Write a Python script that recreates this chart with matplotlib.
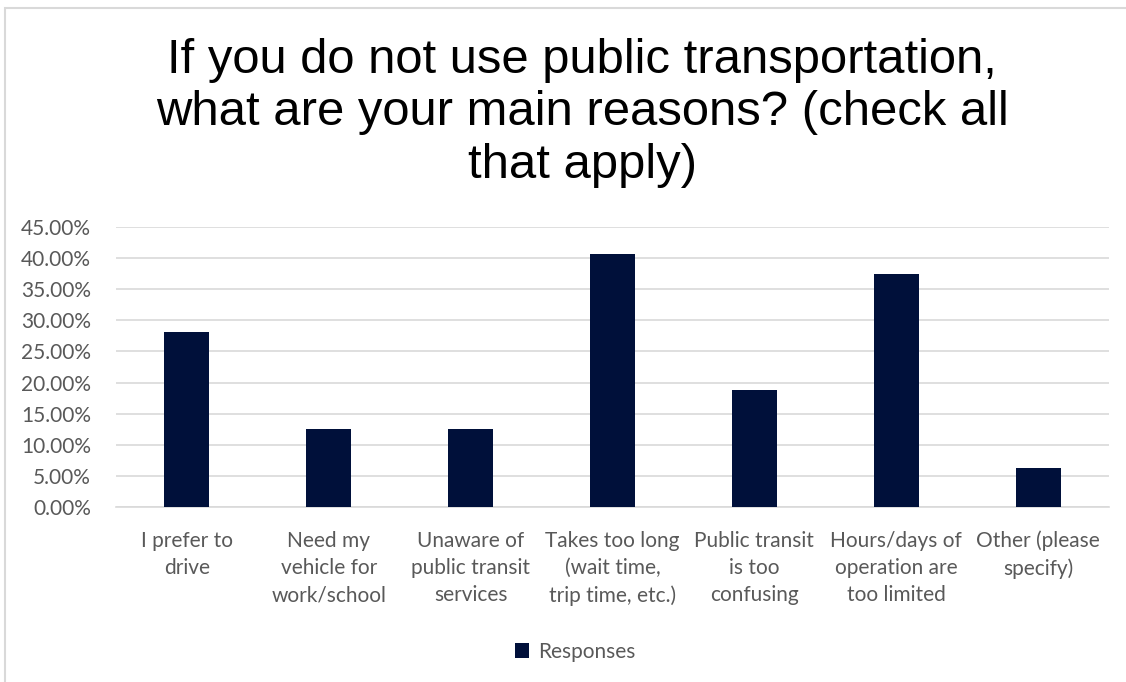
import matplotlib
matplotlib.use("Agg")
import matplotlib.pyplot as plt
from matplotlib.patches import Rectangle
from matplotlib.ticker import PercentFormatter

# dati (percentuale di risposte)
categorie = ["I prefer to\ndrive", "Need my\nvehicle for\nwork/school",
             "Unaware of\npublic transit\nservices", "Takes too long\n(wait time,\ntrip time, etc.)",
             "Public transit\nis too\nconfusing", "Hours/days of\noperation are\ntoo limited",
             "Other (please\nspecify)"]
risposte = [28.13, 12.50, 12.50, 40.63, 18.75, 37.50, 6.25]
tick_y = [0, 5, 10, 15, 20, 25, 30, 35, 40, 45]

GRIGIO = "#595959"
BLU = "#00103A"
FS = 15

fig = plt.figure(figsize=(11.26, 6.82), dpi=100)
ax = fig.add_axes([116/1126, 1-507/682, (1109-116)/1126, (507-227)/682])

# cornice esterna (solo bordo sinistro e superiore visibili)
fig.patches.append(Rectangle((4.5/1126, -0.1), 1.2, 1.1 - 8/682,
                             transform=fig.transFigure, fill=False,
                             edgecolor="#D9D9D9", linewidth=1.5))

x = range(len(categorie))
ax.bar(x, risposte, width=0.317, color=BLU, label="Responses", zorder=3)

ax.set_xlim(-0.5, len(categorie) - 0.5)
ax.set_ylim(0, 45)
ax.set_yticks(tick_y)
ax.yaxis.set_major_formatter(PercentFormatter(decimals=2))
ax.set_xticks(list(x))
ax.set_xticklabels(categorie, linespacing=1.46)
ax.grid(axis="y", color="#D9D9D9", linewidth=1.2, zorder=0)
for s in ["top", "left", "right"]:
    ax.spines[s].set_visible(False)
ax.spines["bottom"].set_color("#D9D9D9")
ax.spines["bottom"].set_linewidth(1.2)
ax.tick_params(axis="y", length=0, pad=18, labelsize=FS, labelcolor=GRIGIO)
ax.tick_params(axis="x", length=0, pad=17, labelsize=FS, labelcolor=GRIGIO)
for t in ax.get_xticklabels() + ax.get_yticklabels():
    t.set_fontfamily("Lato")

fig.text(582/1126, 1-38/682,
         "If you do not use public transportation,\nwhat are your main reasons? (check all\nthat apply)",
         ha="center", va="top", fontsize=35.3, family="Liberation Sans",
         color="black", linespacing=1.21)

fig.legend(loc="center", bbox_to_anchor=(575/1126, 1-652/682), frameon=False,
           handlelength=0.7, handleheight=0.7, handletextpad=0.4,
           prop={"family": "Lato", "size": FS}, labelcolor=GRIGIO)

plt.savefig("out.png", dpi=100)
